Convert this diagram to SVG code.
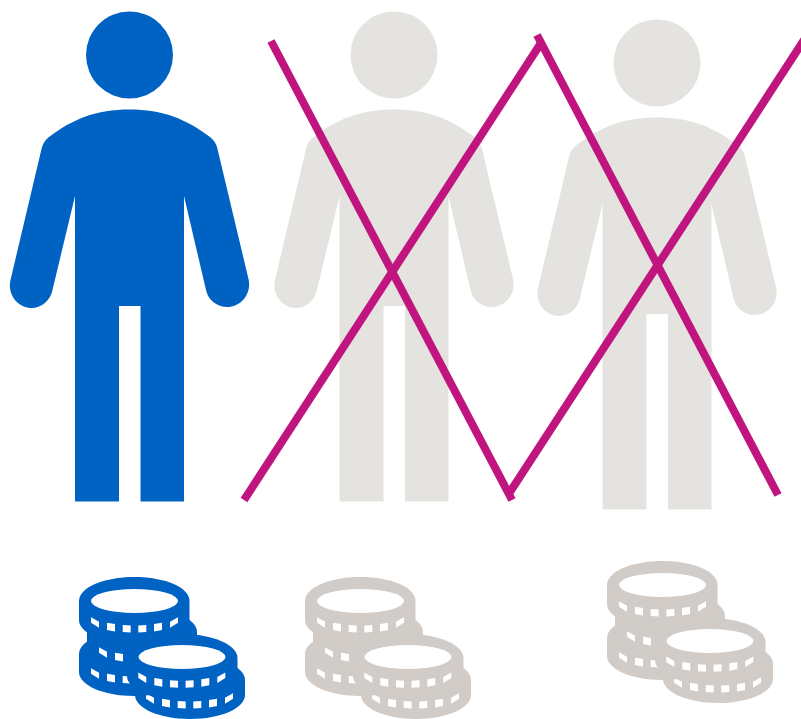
<svg xmlns="http://www.w3.org/2000/svg" width="801" height="719" viewBox="0 0 801 719">
<style>
.blue{fill:#0063c3}
.pale{fill:#e4e3e0}
.tan{fill:#d1ccc7}
.tick{fill:#fff}
.hole{fill:#fff}
.cross line{stroke:#c0157f;stroke-width:8;fill:none}
</style>
<defs>
<path id="ticks" class="tick" d="M91 617.300L99 621.700V627.700L91 622.700ZM107 622.700L115 624V631.500L107 630ZM122.700 625L130.700 625.500V632.500L122.700 632ZM138.300 625.500L146.300 625V632L138.300 632.500ZM154 624L162 622.700V630L154 631.500ZM170 621.700L178 617.300V622.700L170 627.700Z"/>
<g id="person">
<circle cx="129.500" cy="55" r="43.500"/>
<path d="M129.500 109.500C163 109.500 186 119 210 137C214 140 216.500 144 217.500 149L248.500 279C252 294 240.500 307 227.500 307C217 307 208 300 206 290L184 196V501.500H140.500V306H119V501.500H75V196L52.500 290C50.500 300 42 308 31.500 308C18.500 308 7 295 10.500 280L41.500 149C42.500 144 45 140 49 137C73 119 96 109.500 129.500 109.500Z"/>
</g>
<g id="coins">
<path d="M135 680C135 667 159 656 190 656C221 656 245 667 245 680V695C245 708 221 719 190 719C159 719 135 708 135 695Z"/>
<use href="#ticks" x="55" y="76"/>
<path d="M79 654C79 641 103 630 134 630C165 630 189 641 189 654V672C189 685 165 696 134 696C103 696 79 685 79 672Z"/>
<use href="#ticks" y="51"/>
<path d="M87 632C87 619 111 608 142 608C173 608 197 619 197 632V648C197 661 173 672 142 672C111 672 87 661 87 648Z"/>
<use href="#ticks" x="8" y="30"/>
<path d="M79 601C79 587.700 103 577 134.500 577C166 577 189.500 587.700 189.500 601V620C189.500 633 166 644 134.500 644C103 644 79 633 79 620Z"/>
<use href="#ticks"/>
<ellipse class="hole" cx="134.500" cy="601" rx="43.500" ry="12"/>
<path d="M127 658C127 645 151 634 182 634C213 634 237.500 645 237.500 658V676C237.500 689 213 700 182 700C151 700 127 689 127 676Z"/>
<use href="#ticks" x="47.300" y="55.300"/>
<ellipse class="hole" cx="182" cy="657" rx="43.500" ry="12"/>
</g>
</defs>
<g id="person-1" class="blue"><use href="#person"/></g>
<g id="person-2" class="pale"><use href="#person" x="264.500"/></g>
<g id="person-3" class="pale"><use href="#person" x="527.500" y="8"/></g>
<g id="coins-1" class="blue"><use href="#coins"/></g>
<g id="coins-2" class="tan"><use href="#coins" x="226"/></g>
<g id="coins-3" class="tan"><use href="#coins" x="528" y="-16"/></g>
<g id="connectors" class="cross">
<line x1="271" y1="41" x2="512" y2="500"/>
<line x1="244" y1="500" x2="541" y2="43"/>
<line x1="537" y1="35" x2="778" y2="495"/>
<line x1="510" y1="492" x2="806" y2="37"/>
</g>
</svg>
